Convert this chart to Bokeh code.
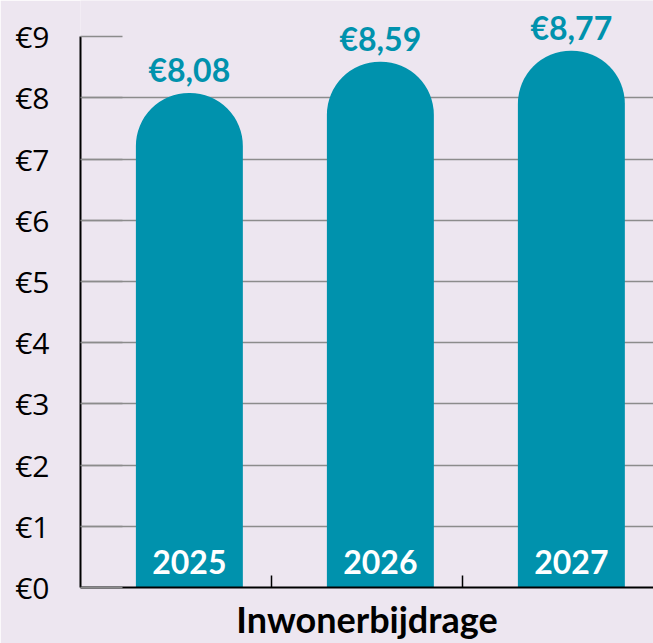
from bokeh.plotting import figure
from bokeh.models import Range1d, FixedTicker, ColumnDataSource, LabelSet
from bokeh.core.properties import value
from bokeh.embed import file_html
from bokeh.resources import INLINE
import numpy as np

years = ["2025", "2026", "2027"]
amounts = [8.08, 8.59, 8.77]
y_ticks = [0, 1, 2, 3, 4, 5, 6, 7, 8, 9]
y_tick_labels = ["€0", "€1", "€2", "€3", "€4", "€5", "€6", "€7", "€8", "€9"]
x_title = "Inwonerbijdrage"

BG = "#ede6f0"
TEAL = "#0092ad"
GRID = "#8c8c8c"

xpos = np.arange(len(years)) + 0.57
src = ColumnDataSource(dict(
    x=xpos,
    top=amounts,
    year=years,
    label=[("€%.2f" % v).replace(".", ",") for v in amounts],
    zero=[0] * len(years),
))

p = figure(width=653, height=643, output_backend="svg", toolbar_location=None,
           x_range=Range1d(0, len(years)), y_range=Range1d(0, 9.59),
           min_border_left=80, min_border_right=0, min_border_top=0, min_border_bottom=55)
p.background_fill_color = BG
p.border_fill_color = BG
p.outline_line_color = None

p.vbar(x="x", top="top", bottom=0, width=0.56, source=src, fill_color=TEAL,
       line_color=None, border_radius=(53, 53, 0, 0))

p.add_layout(LabelSet(x="x", y="top", text="label", source=src, text_align="center",
                      text_baseline="alphabetic", y_offset=11, text_color=TEAL,
                      text_font=value("Lato"), text_font_style="bold",
                      text_font_size="32px"))
p.add_layout(LabelSet(x="x", y="zero", text="year", source=src, text_align="center",
                      text_baseline="alphabetic", y_offset=14, text_color="white",
                      text_font=value("Lato"), text_font_style="bold",
                      text_font_size="32px"))

# grid
p.xgrid.visible = False
p.ygrid.ticker = FixedTicker(ticks=y_ticks[1:-1])
p.ygrid.grid_line_color = GRID
p.ygrid.grid_line_width = 1.5
p.ygrid.level = "underlay"

# y axis
ya = p.yaxis[0]
ya.ticker = FixedTicker(ticks=y_ticks)
ya.major_label_overrides = {t: l for t, l in zip(y_ticks, y_tick_labels)}
ya.bounds = (0, 9)
ya.axis_line_color = "black"
ya.axis_line_width = 2
ya.major_tick_in = 42
ya.major_tick_out = 0
ya.major_tick_line_color = GRID
ya.major_tick_line_width = 1.5
ya.minor_tick_line_color = None
ya.major_label_standoff = 31
ya.major_label_text_font = "Open Sans"
ya.major_label_text_font_size = "30px"
ya.major_label_text_color = "black"

# x axis
xa = p.xaxis[0]
xa.ticker = FixedTicker(ticks=list(range(1, len(years))))
xa.major_label_overrides = {i: "" for i in range(1, len(years))}
xa.major_label_standoff = 0
xa.axis_line_color = "black"
xa.axis_line_width = 2
xa.major_tick_in = 12
xa.major_tick_out = 0
xa.major_tick_line_color = "black"
xa.major_tick_line_width = 1.5
xa.minor_tick_line_color = None
xa.axis_label = x_title
xa.axis_label_text_font = "Lato"
xa.axis_label_text_font_style = "bold"
xa.axis_label_text_font_size = "36px"
xa.axis_label_text_color = "black"
xa.axis_label_standoff = 9

html = file_html(p, INLINE)
open("out.html", "w").write(html)
